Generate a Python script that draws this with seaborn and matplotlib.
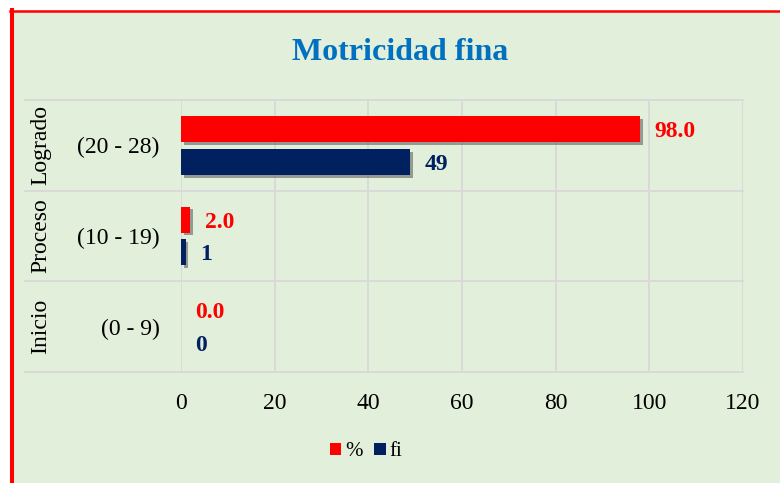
import matplotlib
matplotlib.use("Agg")
import matplotlib.pyplot as plt
import matplotlib.patheffects as pe
import matplotlib.transforms as mtransforms
from matplotlib.patches import Rectangle
from matplotlib.lines import Line2D
import seaborn as sns
import pandas as pd

# ---- data ----
levels = ["Logrado", "Proceso", "Inicio"]
ranges = ["(20 - 28)", "(10 - 19)", "(0 - 9)"]
pct = [98.0, 2.0, 0.0]
fi = [49, 1, 0]
series = ["%", "fi"]
xticks = [0, 20, 40, 60, 80, 100, 120]

RED = "#FF0000"
NAVY = "#002060"
GREEN = "#E2EFDA"
GRID = "#D9D9D9"

plt.rcParams["font.family"] = ["Liberation Serif", "DejaVu Serif"]

df = pd.DataFrame({
    "rango": ranges * 2,
    "valor": pct + fi,
    "serie": [series[0]] * len(ranges) + [series[1]] * len(ranges),
})

W, H = 780, 483
fig = plt.figure(figsize=(W / 100, H / 100), dpi=100, facecolor="white")

# green chart area with red border (left + top)
fig.patches.append(Rectangle((12 / W, 0), 1 - 12 / W, 1 - 11 / H,
                             transform=fig.transFigure, facecolor=GREEN,
                             edgecolor="none", zorder=-10))
fig.lines.append(Line2D([12 / W, 12 / W], [0, 1 - 10 / H], transform=fig.transFigure,
                        color=RED, linewidth=2.9, zorder=-5))
fig.lines.append(Line2D([10 / W, 1], [1 - 11.2 / H, 1 - 11.2 / H], transform=fig.transFigure,
                        color=RED, linewidth=1.8, zorder=-5))

left, right, top, bottom = 181, 743, 100, 372
ax = fig.add_axes([left / W, 1 - bottom / H, (right - left) / W, (bottom - top) / H])
ax.set_facecolor("none")

sns.barplot(data=df, y="rango", x="valor", hue="serie", orient="h",
            palette=[RED, NAVY], hue_order=series, width=0.725, gap=0.21,
            linewidth=0, saturation=1, ax=ax, legend=True)

shadow = [pe.SimplePatchShadow(offset=(2, -2), shadow_rgbFace="#555555", alpha=0.55), pe.Normal()]
for cont in ax.containers:
    for bar in cont:
        bar.set_path_effects(shadow)
        bar.set_zorder(3)

anns = ax.bar_label(ax.containers[0], labels=[f"{v:.1f}" for v in pct], padding=10.5,
                    fontsize=17, fontweight="bold", color=RED)
anns += ax.bar_label(ax.containers[1], labels=[f"{v:d}" for v in fi], padding=10.5,
                     fontsize=17, fontweight="bold", color=NAVY)
for a in anns:
    a.set_va("center_baseline")

ax.set_xlim(0, 120)
ax.set_ylim(2.5, -0.5)
ax.set_xticks(xticks)
ax.set_xticklabels([str(t) for t in xticks])
ax.tick_params(axis="x", length=0, pad=15, labelsize=17, colors="black")
ax.tick_params(axis="y", length=0, pad=15.5, labelsize=17, colors="black")
ax.set_xlabel("")
ax.set_ylabel("")
for s in ax.spines.values():
    s.set_visible(False)
ax.grid(axis="x", color=GRID, linewidth=1.4, zorder=0)
ax.set_axisbelow(True)

# horizontal separators extending into the multi-level category area
sep_tr = mtransforms.blended_transform_factory(fig.transFigure, ax.transData)
for yb in [-0.5, 0.5, 1.5, 2.5]:
    fig.lines.append(Line2D([25 / W, right / W], [yb, yb], transform=sep_tr,
                            color=GRID, linewidth=1.4, zorder=-1))

# outer category labels
for i, lv in enumerate(levels):
    fig.text(41 / W, i, lv, transform=sep_tr, rotation=90,
             ha="center", va="center", fontsize=17, color="black")

# title
fig.text(400 / W, 1 - 52 / H, "Motricidad fina", ha="center", va="center",
         fontsize=23, fontweight="bold", color="#0070C0")

# legend
handles, labels = ax.get_legend_handles_labels()
ax.legend(handles, labels, loc="center", bbox_to_anchor=(366 / W, 1 - 452 / H),
          bbox_transform=fig.transFigure, ncol=2, frameon=False, fontsize=15,
          handlelength=0.55, handleheight=0.55, handletextpad=0.2,
          columnspacing=0.55, borderpad=0)

fig.savefig("out.png", dpi=100, facecolor=fig.get_facecolor())
